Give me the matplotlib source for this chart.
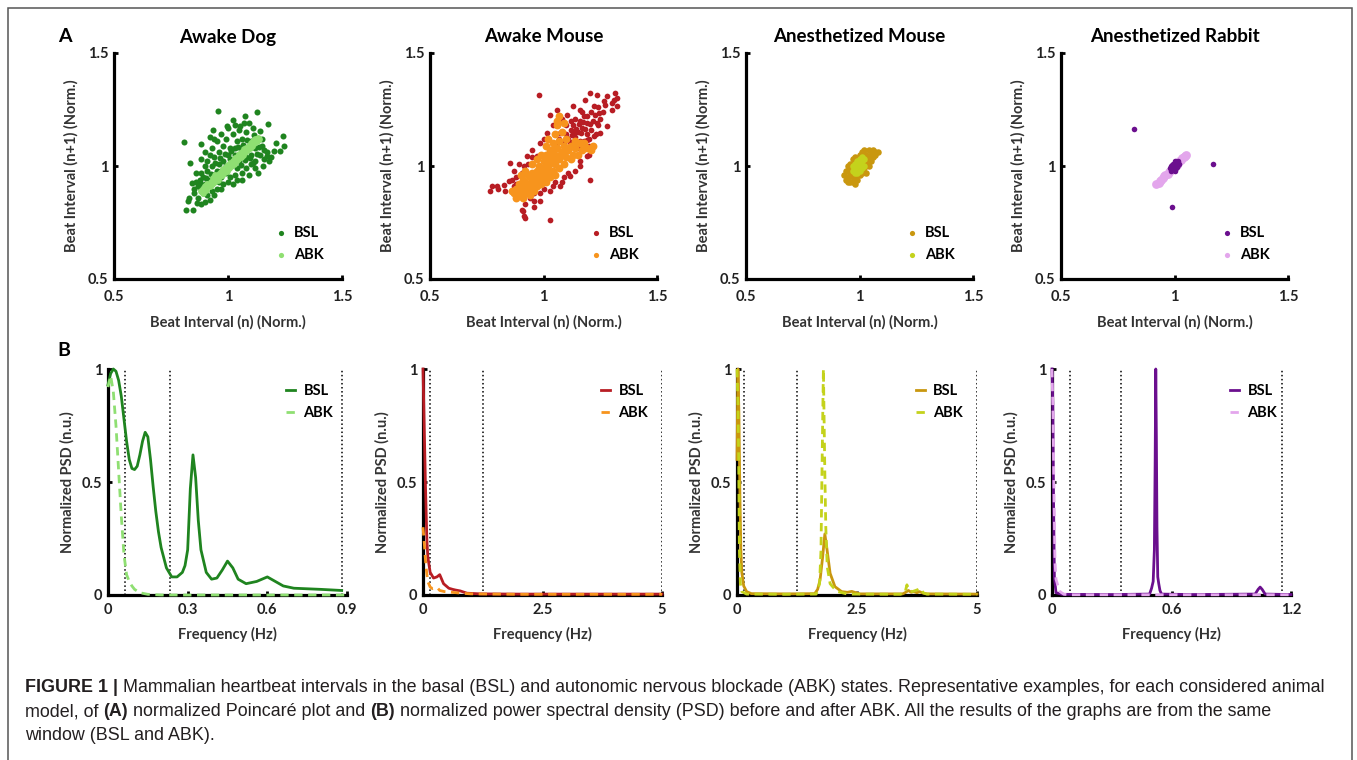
import matplotlib
matplotlib.use('Agg')
import matplotlib.pyplot as plt
from matplotlib.patches import Rectangle
import numpy as np

plt.rcParams['font.family'] = ['Lato', 'DejaVu Sans']

W, H = 1357, 760

titles = ['Awake Dog', 'Awake Mouse', 'Anesthetized Mouse', 'Anesthetized Rabbit']
bsl_colors = ['#1f841f', '#b81d24', '#c9970f', '#6b0f8e']
abk_colors = ['#8fdf72', '#f7941d', '#c4d21c', '#e3a6ec']

# ---- panel A: Poincare points (x = beat n, y = beat n+1), normalised ----
dog_bsl = np.array([
    (0.957, 1.245), (1.126, 1.237), (1.075, 1.22), (0.808, 1.105), (0.881, 1.099), (0.833, 1.013),
    (1.24, 1.131), (1.246, 1.087), (1.177, 1.187), (1.141, 1.153), (0.814, 0.804), (0.848, 0.807),
    (0.826, 0.844), (0.862, 0.836), (1.2, 1.065), (1.229, 1.065), (1.17, 1.043), (1.155, 0.998),
    (1.111, 1.013), (0.935, 1.161), (0.994, 1.176), (1.023, 1.205), (1.053, 1.176), (0.84, 0.925),
    (0.87, 0.91), (0.877, 0.94), (1.19, 1.04), (1.16, 1.07), (1.21, 1.10), (1.09, 1.19), (1.11, 1.17),
    (0.92, 1.13), (0.90, 1.06), (0.86, 0.97), (0.85, 0.88), (0.83, 0.86), (0.88, 0.83), (0.92, 0.85),
    (1.02, 0.92), (1.06, 0.94), (1.13, 0.97), (1.18, 1.02),
    (0.87, 0.86), (0.89, 0.88), (0.91, 0.87), (0.88, 0.90), (0.90, 0.92), (0.93, 0.89), (0.95, 0.90),
    (0.92, 0.94), (0.89, 0.95), (0.91, 0.98), (0.94, 0.96), (0.96, 0.93), (0.98, 0.92), (0.97, 0.95),
    (0.95, 0.98), (0.93, 1.00), (0.91, 1.02), (0.94, 1.04), (0.96, 1.01), (0.99, 0.97), (1.01, 0.95),
    (1.03, 0.96), (1.00, 0.99), (0.98, 1.02), (0.96, 1.06), (0.93, 1.08), (0.95, 1.11), (0.98, 1.09),
    (1.00, 1.05), (1.02, 1.01), (1.04, 0.99), (1.06, 0.97), (1.08, 0.99), (1.05, 1.02), (1.03, 1.05),
    (1.01, 1.08), (0.99, 1.12), (1.02, 1.14), (1.04, 1.11), (1.06, 1.07), (1.08, 1.04), (1.10, 1.01),
    (1.12, 1.02), (1.10, 1.05), (1.08, 1.08), (1.06, 1.12), (1.08, 1.15), (1.10, 1.11), (1.12, 1.08),
    (1.14, 1.05), (1.15, 1.09), (1.13, 1.12), (1.05, 1.16), (0.97, 1.14), (0.94, 1.12), (1.00, 1.17),
    (1.03, 1.18), (1.07, 1.19), (0.90, 1.00), (0.88, 0.97), (0.86, 0.93), (0.85, 0.90), (0.90, 0.84),
    (0.94, 0.87), (0.97, 0.90), (1.00, 0.93), (1.04, 0.94), (1.09, 0.96), (1.12, 0.99), (1.16, 1.03),
    (1.17, 1.06), (1.15, 1.12), (0.99, 1.00), (0.97, 0.98), (1.01, 1.03), (1.03, 1.08), (0.92, 1.05),
    (0.88, 1.03), (0.965, 1.035), (0.945, 1.015), (0.985, 1.055), (1.015, 1.065), (1.035, 1.025),
    (1.055, 1.005), (1.075, 1.025), (1.095, 1.035), (1.045, 1.085), (1.065, 1.095), (1.085, 1.115),
    (1.115, 1.135), (0.925, 0.965), (0.905, 0.945), (0.875, 0.925), (1.125, 1.055), (1.135, 1.085)])
dog_abk = np.array([
    (0.88, 0.89), (0.89, 0.88), (0.89, 0.90), (0.90, 0.91), (0.905, 0.895), (0.91, 0.92), (0.92, 0.91),
    (0.925, 0.93), (0.93, 0.92), (0.935, 0.945), (0.94, 0.93), (0.95, 0.95), (0.945, 0.96), (0.955, 0.94),
    (0.96, 0.965), (0.965, 0.955), (0.97, 0.975), (0.975, 0.96), (0.98, 0.985), (0.985, 0.975),
    (0.99, 0.995), (0.995, 0.98), (1.0, 1.005), (1.005, 0.99), (1.01, 1.015), (1.015, 1.0), (1.02, 1.02),
    (1.025, 1.01), (1.03, 1.035), (1.035, 1.02), (1.04, 1.04), (1.045, 1.03), (1.05, 1.055), (1.055, 1.04),
    (1.06, 1.06), (1.065, 1.05), (1.07, 1.075), (1.075, 1.06), (1.08, 1.08), (1.085, 1.07), (1.09, 1.09),
    (1.095, 1.08), (1.10, 1.10), (1.105, 1.09), (1.11, 1.11), (1.115, 1.10), (1.12, 1.12), (1.125, 1.11),
    (1.13, 1.125), (1.135, 1.12)])

mouse_bsl = np.array([
    (1.09, 1.10), (1.11, 1.12), (1.13, 1.10), (1.10, 1.14), (1.12, 1.16), (1.14, 1.13), (1.16, 1.11),
    (1.15, 1.15), (1.13, 1.18), (1.17, 1.17), (1.19, 1.14), (1.18, 1.11), (1.20, 1.12), (1.21, 1.16),
    (1.19, 1.19), (1.16, 1.20), (1.14, 1.21), (1.18, 1.22), (1.22, 1.20), (1.24, 1.18), (1.23, 1.14),
    (1.25, 1.21), (1.21, 1.24), (1.17, 1.24), (1.12, 1.20), (1.10, 1.18), (1.08, 1.15), (1.07, 1.12),
    (1.15, 1.08), (1.20, 1.09), (1.26, 1.24), (1.27, 1.27), (1.24, 1.26),
    (0.978, 1.316), (1.206, 1.323), (1.235, 1.316), (1.279, 1.308), (1.316, 1.323), (1.324, 1.301),
    (1.301, 1.279), (1.324, 1.264), (1.265, 1.286), (1.221, 1.264), (1.184, 1.293), (1.162, 1.249),
    (1.132, 1.264), (1.103, 1.227), (1.029, 1.227), (1.059, 1.249), (1.191, 1.220), (1.235, 1.19),
    (1.279, 1.176), (1.25, 1.146), (1.221, 1.131), (1.191, 1.117), (1.206, 0.94), (0.772, 0.910),
    (0.765, 0.888), (0.794, 0.910), (0.824, 0.917), (0.846, 0.932), (0.86, 0.94), (0.853, 1.013),
    (0.868, 0.976), (0.904, 0.969), (0.926, 1.043), (0.912, 0.999), (0.971, 1.043), (0.985, 1.102),
    (1.015, 1.146), (0.904, 0.807), (0.912, 0.777), (0.919, 0.77), (1.029, 0.763), (0.956, 0.844),
    (0.985, 0.844), (0.985, 0.88), (1.029, 0.888), (1.074, 0.910), (1.118, 0.955), (1.162, 0.999),
    (1.191, 1.043), (1.074, 1.146), (1.059, 1.102), (1.096, 1.065), (1.3, 1.25), (1.31, 1.29),
    (0.80, 0.90), (0.83, 0.89), (0.88, 0.92), (0.94, 0.86), (0.92, 0.83), (0.91, 0.80), (0.96, 0.88),
    (1.00, 0.90), (1.05, 0.93), (1.09, 0.95), (1.14, 0.98), (0.89, 1.01), (0.95, 1.07), (1.00, 1.12),
    (1.04, 1.18), (1.08, 1.21), (1.125, 1.135), (1.145, 1.165), (1.165, 1.145), (1.185, 1.165),
    (1.205, 1.185), (1.175, 1.195), (1.155, 1.185), (1.135, 1.145), (1.115, 1.105), (1.105, 1.125),
    (1.225, 1.225), (1.245, 1.235), (0.93, 1.01), (0.95, 1.04), (0.88, 0.95), (0.87, 0.91),
    (1.04, 0.91), (1.08, 0.93), (1.11, 0.97), (1.16, 1.02), (1.2, 1.05), (0.96, 0.82)])
mouse_abk = np.array([
    (0.87, 0.88), (0.88, 0.90), (0.89, 0.87), (0.90, 0.89), (0.89, 0.92), (0.91, 0.91), (0.92, 0.88),
    (0.93, 0.90), (0.92, 0.93), (0.94, 0.92), (0.95, 0.90), (0.94, 0.95), (0.96, 0.93), (0.97, 0.91),
    (0.96, 0.96), (0.98, 0.94), (0.99, 0.92), (0.97, 0.98), (0.99, 0.97), (1.00, 0.95), (1.01, 0.93),
    (0.98, 1.00), (1.00, 0.99), (1.02, 0.97), (1.03, 0.95), (1.00, 1.02), (1.02, 1.00), (1.04, 0.98),
    (1.05, 0.96), (1.01, 1.05), (1.03, 1.03), (1.05, 1.01), (1.07, 0.99), (1.03, 1.07), (1.05, 1.05),
    (1.07, 1.03), (1.09, 1.01), (1.04, 1.10), (1.06, 1.08), (1.08, 1.06), (1.10, 1.04), (1.12, 1.03),
    (1.05, 1.14), (1.07, 1.11), (1.09, 1.09), (1.11, 1.07), (1.13, 1.05), (1.15, 1.05), (1.06, 1.18),
    (1.08, 1.15), (1.10, 1.12), (1.12, 1.09), (1.14, 1.08), (1.17, 1.07), (1.19, 1.08), (1.21, 1.07),
    (1.22, 1.09), (1.07, 1.22), (1.06, 1.20), (1.09, 1.19), (0.95, 0.97), (0.93, 0.96), (0.91, 0.94),
    (0.90, 0.96), (0.92, 0.98), (0.95, 1.01), (0.97, 1.03), (0.99, 1.05), (1.01, 1.09), (1.02, 1.12),
    (0.86, 0.89), (0.88, 0.86), (0.91, 0.86), (0.94, 0.87), (0.96, 0.89), (1.16, 1.10), (1.18, 1.10),
    (1.14, 1.11), (0.975, 0.955), (1.015, 0.985), (1.035, 1.015), (1.055, 1.035), (1.075, 1.055),
    (1.095, 1.065), (0.955, 0.935), (0.935, 0.915), (1.025, 1.055), (1.045, 1.075)])

anmouse_bsl = np.array([
    (0.93, 0.96), (0.94, 0.94), (0.94, 0.98), (0.95, 0.95), (0.95, 1.00), (0.96, 0.93), (0.96, 0.97),
    (0.96, 1.01), (0.97, 0.95), (0.97, 0.99), (0.97, 1.03), (0.98, 0.92), (0.98, 0.97), (0.98, 1.01),
    (0.98, 1.04), (0.99, 0.94), (0.99, 0.99), (0.99, 1.03), (1.00, 0.96), (1.00, 1.00), (1.00, 1.05),
    (1.01, 0.97), (1.01, 1.02), (1.01, 1.06), (1.02, 0.99), (1.02, 1.04), (1.03, 0.97), (1.03, 1.01),
    (1.03, 1.05), (1.04, 1.00), (1.04, 1.03), (1.04, 1.07), (1.05, 1.02), (1.05, 1.05), (1.06, 1.04),
    (1.06, 1.07), (1.07, 1.05), (1.07, 1.06), (1.08, 1.06), (0.95, 0.93), (0.96, 0.99), (0.97, 0.93),
    (1.02, 1.07), (0.99, 0.96)])
anmouse_abk = np.array([
    (0.97, 0.98), (0.98, 0.99), (0.98, 1.01), (0.99, 0.97), (0.99, 1.00), (0.99, 1.02), (1.00, 0.98),
    (1.00, 1.01), (1.01, 0.99), (1.01, 1.02), (1.02, 1.00), (1.02, 1.03), (0.97, 1.00), (1.00, 1.03),
    (1.01, 1.04), (0.98, 0.97)])

rabbit_bsl = np.array([
    (0.99, 0.99), (1.0, 1.0), (1.01, 1.01), (0.995, 1.01), (1.01, 0.995), (0.985, 1.0), (1.0, 0.985),
    (1.015, 1.005), (1.005, 1.015), (0.99, 1.005), (1.005, 0.99), (0.98, 0.99), (1.02, 1.01),
    (1.0, 1.02), (1.0, 0.98), (0.985, 0.98), (1.015, 1.02),
    (0.82, 1.165), (1.17, 1.01), (0.99, 0.82)])
rabbit_abk = np.array([
    (0.92, 0.92), (0.93, 0.925), (0.935, 0.935), (0.94, 0.94), (0.95, 0.945), (0.955, 0.955),
    (0.96, 0.96), (0.97, 0.965), (0.975, 0.975), (0.98, 0.98), (0.99, 0.985), (0.995, 0.995),
    (1.0, 1.0), (1.01, 1.005), (1.015, 1.015), (1.02, 1.02), (1.03, 1.025), (1.035, 1.035),
    (1.04, 1.04), (1.045, 1.045), (1.05, 1.05)])

poincare = [(dog_bsl, dog_abk), (mouse_bsl, mouse_abk), (anmouse_bsl, anmouse_abk), (rabbit_bsl, rabbit_abk)]
abk_on_top = [True, True, True, False]
size_bsl = [19, 17, 22, 16]
size_abk = [24, 32, 22, 40]

# ---- panel B: normalised PSD ----
dog_f_bsl = [0, 0.01, 0.02, 0.03, 0.04, 0.05, 0.06, 0.07, 0.08, 0.09, 0.10, 0.11, 0.12, 0.13, 0.14,
             0.15, 0.16, 0.17, 0.18, 0.19, 0.20, 0.22, 0.24, 0.26, 0.28, 0.29, 0.30, 0.31, 0.32, 0.33,
             0.34, 0.35, 0.37, 0.39, 0.41, 0.43, 0.45, 0.47, 0.49, 0.52, 0.56, 0.60, 0.63, 0.66, 0.70,
             0.80, 0.88]
dog_p_bsl = [0.93, 0.98, 1.0, 0.99, 0.95, 0.88, 0.78, 0.68, 0.60, 0.56, 0.555, 0.57, 0.62, 0.68, 0.72,
             0.70, 0.60, 0.48, 0.37, 0.28, 0.21, 0.12, 0.08, 0.08, 0.10, 0.13, 0.20, 0.47, 0.62, 0.52,
             0.33, 0.20, 0.10, 0.07, 0.075, 0.11, 0.15, 0.12, 0.07, 0.05, 0.06, 0.08, 0.06, 0.04, 0.03,
             0.025, 0.02]
dog_f_abk = [0, 0.01, 0.02, 0.03, 0.04, 0.05, 0.06, 0.07, 0.08, 0.09, 0.10, 0.12, 0.15, 0.2, 0.9]
dog_p_abk = [0.92, 0.97, 0.9, 0.75, 0.55, 0.35, 0.18, 0.09, 0.06, 0.04, 0.025, 0.01, 0.003, 0.0, 0.0]

mouse_f_bsl = [0, 0.02, 0.05, 0.08, 0.1, 0.15, 0.22, 0.29, 0.35, 0.43, 0.54, 0.62, 0.68, 0.78, 0.92,
               1.2, 2.0, 3.0, 4.0, 5.0]
mouse_p_bsl = [1.0, 0.8, 0.5, 0.25, 0.17, 0.1, 0.075, 0.08, 0.09, 0.05, 0.03, 0.025, 0.022, 0.018,
               0.008, 0.005, 0.004, 0.004, 0.004, 0.004]
mouse_f_abk = [0, 0.03, 0.06, 0.1, 0.15, 0.2, 0.25, 0.3, 0.35, 0.45, 0.6, 0.8, 1.0, 2.0, 3.0, 4.0, 5.0]
mouse_p_abk = [0.3, 0.22, 0.13, 0.06, 0.035, 0.028, 0.03, 0.032, 0.02, 0.015, 0.012, 0.008, 0.005,
               0.003, 0.003, 0.003, 0.003]

anmouse_f_bsl = [0, 0.02, 0.04, 0.06, 0.08, 0.1, 0.14, 0.2, 0.3, 1.0, 1.62, 1.68, 1.73, 1.78, 1.83,
                 1.87, 1.94, 2.04, 2.18, 2.3, 2.39, 2.48, 2.56, 3.45, 3.5, 3.57, 3.63, 3.68, 3.75,
                 3.8, 3.88, 3.96, 5.0]
anmouse_p_bsl = [0.6, 1.0, 0.8, 0.45, 0.2, 0.1, 0.04, 0.015, 0.006, 0.005, 0.006, 0.025, 0.066, 0.16,
                 0.27, 0.21, 0.096, 0.037, 0.015, 0.012, 0.016, 0.01, 0.005, 0.005, 0.01, 0.02,
                 0.012, 0.015, 0.01, 0.015, 0.008, 0.005, 0.004]
anmouse_f_abk = [0, 0.02, 0.035, 0.05, 0.07, 0.1, 0.2, 1.0, 1.65, 1.72, 1.75, 1.77, 1.79, 1.8, 1.81,
                 1.83, 1.85, 1.88, 1.94, 2.02, 2.1, 2.3, 3.4, 3.5, 3.54, 3.58, 3.65, 3.72, 3.78,
                 3.82, 3.88, 3.95, 5.0]
anmouse_p_abk = [1.0, 0.85, 0.6, 0.2, 0.05, 0.015, 0.004, 0.003, 0.004, 0.05, 0.2, 0.54, 0.85, 1.0,
                 0.85, 0.54, 0.3, 0.125, 0.05, 0.03, 0.015, 0.004, 0.003, 0.01, 0.045, 0.02, 0.015,
                 0.02, 0.025, 0.03, 0.01, 0.004, 0.003]

rabbit_f_bsl = [0, 0.004, 0.008, 0.012, 0.02, 0.05, 0.3, 0.49, 0.50, 0.508, 0.514, 0.518, 0.521,
                0.524, 0.527, 0.531, 0.536, 0.542, 0.55, 0.7, 1.02, 1.035, 1.045, 1.055, 1.07, 1.2]
rabbit_p_bsl = [1.0, 0.85, 0.4, 0.08, 0.01, 0.003, 0.002, 0.004, 0.03, 0.06, 0.2, 0.6, 1.0, 0.7,
                0.3, 0.08, 0.05, 0.02, 0.004, 0.002, 0.004, 0.025, 0.035, 0.025, 0.004, 0.002]
rabbit_f_abk = [0, 0.005, 0.01, 0.015, 0.02, 0.03, 0.04, 0.06, 0.1, 1.2]
rabbit_p_abk = [1.0, 0.8, 0.45, 0.15, 0.07, 0.04, 0.015, 0.003, 0.001, 0.001]

psd = [((dog_f_bsl, dog_p_bsl), (dog_f_abk, dog_p_abk)),
       ((mouse_f_bsl, mouse_p_bsl), (mouse_f_abk, mouse_p_abk)),
       ((anmouse_f_bsl, anmouse_p_bsl), (anmouse_f_abk, anmouse_p_abk)),
       ((rabbit_f_bsl, rabbit_p_bsl), (rabbit_f_abk, rabbit_p_abk))]
f_max = [0.9, 5, 5, 1.2]
f_ticks = [[0, 0.3, 0.6, 0.9], [0, 2.5, 5], [0, 2.5, 5], [0, 0.6, 1.2]]
f_ticklabels = [['0', '0.3', '0.6', '0.9'], ['0', '2.5', '5'], ['0', '2.5', '5'], ['0', '0.6', '1.2']]
band_edges = [[0.065, 0.235, 0.88], [0.15, 1.25, 5], [0.15, 1.25, 5], [0.09, 0.345, 1.155]]

caption_lines = [
    [('FIGURE 1 |', True), (' ', False), ('Mammalian heartbeat intervals in the basal (BSL) and autonomic '
     'nervous blockade (ABK) states. Representative examples, for each considered animal', False)],
    [('model, of', False), (' ', False), ('(A)', True), (' ', False), ('normalized Poincaré plot and', False),
     (' ', False), ('(B)', True), (' ', False), ('normalized power spectral density (PSD) before and after '
     'ABK. All the results of the graphs are from the same', False)],
    [('window (BSL and ABK).', False)],
]

a_boxes = [(114, 53, 342, 279), (430, 53, 657, 279), (746, 53, 973, 279), (1061, 53, 1288, 279)]
b_boxes = [(108, 369, 347, 595), (423, 369, 662, 595), (737, 369, 977, 595), (1052, 369, 1291, 595)]


def px_rect(box):
    l, t, r, b = box
    return [l / W, 1 - b / H, (r - l) / W, (b - t) / H]


def style_axes(ax):
    for side in ['top', 'right']:
        ax.spines[side].set_visible(False)
    for side in ['left', 'bottom']:
        ax.spines[side].set_linewidth(2.3)
        ax.spines[side].set_color('black')
    ax.tick_params(direction='in', length=3, width=2, colors='black', labelcolor='#222222',
                   labelsize=10.5)
    for lab in ax.get_xticklabels() + ax.get_yticklabels():
        lab.set_fontweight('bold')


fig = plt.figure(figsize=(W / 100, H / 100), dpi=100)

# outer frame of the figure panel
fig.patches.append(Rectangle((8 / W, -0.05), (1352 - 8) / W, 1.05 - 8 / H, transform=fig.transFigure,
                             fill=False, edgecolor='#555555', lw=1.1))

lab_font = dict(fontsize=10.5, fontweight='bold', color='#333333')

for i in range(4):
    ax = fig.add_axes(px_rect(a_boxes[i]))
    bsl, abk = poincare[i]
    zb, za = (2, 3) if abk_on_top[i] else (3, 2)
    ax.scatter(bsl[:, 0], bsl[:, 1], s=size_bsl[i], color=bsl_colors[i], linewidths=0, zorder=zb,
               label='BSL')
    ax.scatter(abk[:, 0], abk[:, 1], s=size_abk[i], color=abk_colors[i], linewidths=0, zorder=za,
               label='ABK')
    ax.set_xlim(0.5, 1.5)
    ax.set_ylim(0.5, 1.5)
    ax.set_xticks([0.5, 1, 1.5])
    ax.set_xticklabels(['0.5', '1', '1.5'])
    ax.set_yticks([0.5, 1, 1.5])
    ax.set_yticklabels(['0.5', '1', '1.5'])
    style_axes(ax)
    ax.tick_params(axis='x', pad=8)
    ax.tick_params(axis='y', pad=4)
    ax.set_xlabel('Beat Interval (n) (Norm.)', **lab_font)
    ax.set_ylabel('Beat Interval (n+1) (Norm.)', **lab_font)
    ax.xaxis.set_label_coords(0.5, -0.16)
    ax.yaxis.set_label_coords(-0.155, 0.5)
    leg = ax.legend(loc='center left', bbox_to_anchor=(0.70, 0.157), frameon=False, borderpad=0,
                    borderaxespad=0, handlelength=1.0, handletextpad=0.4, labelspacing=0.55,
                    prop=dict(family='Lato', weight='bold', size=10.5), markerscale=1.0)
    for h in leg.legend_handles:
        h.set_sizes([14])
    cx = (a_boxes[i][0] + a_boxes[i][2]) / 2
    fig.text(cx / W, 1 - 37 / H, titles[i], ha='center', va='center', fontsize=13.5,
             fontweight='bold', color='black')

for i in range(4):
    ax = fig.add_axes(px_rect(b_boxes[i]))
    (fb, pb), (fa, pa) = psd[i]
    for e in band_edges[i]:
        ax.axvline(e, color='black', ls=':', lw=1.1, zorder=1)
    ax.plot(fb, pb, color=bsl_colors[i], lw=2, zorder=3, clip_on=False, label='BSL')
    ax.plot(fa, pa, color=abk_colors[i], lw=2, ls=(0, (3, 2)), zorder=3.5, clip_on=False,
            label='ABK')
    ax.set_xlim(0, f_max[i])
    ax.set_ylim(0, 1)
    ax.set_xticks(f_ticks[i])
    ax.set_xticklabels(f_ticklabels[i])
    ax.set_yticks([0, 0.5, 1])
    ax.set_yticklabels(['0', '0.5', '1'])
    style_axes(ax)
    ax.tick_params(axis='x', pad=6)
    ax.tick_params(axis='y', pad=4)
    ax.set_xlabel('Frequency (Hz)', **lab_font)
    ax.set_ylabel('Normalized PSD (n.u.)', **lab_font)
    ax.xaxis.set_label_coords(0.5, -0.14)
    ax.yaxis.set_label_coords(-0.138, 0.5)
    ax.legend(loc='center left', bbox_to_anchor=(0.745, 0.852), frameon=False, borderpad=0,
              borderaxespad=0, handlelength=0.6, handletextpad=0.6, labelspacing=0.55,
              prop=dict(family='Lato', weight='bold', size=10.5))

fig.text(65 / W, 1 - 36 / H, 'A', ha='center', va='center', fontsize=14, fontweight='bold')
fig.text(64 / W, 1 - 350 / H, 'B', ha='center', va='center', fontsize=14, fontweight='bold')

# caption, drawn run by run so bold pieces sit inline
renderer = fig.canvas.get_renderer()
cap_size = 12.9
cap_kw = dict(family='Liberation Sans', color='#231f20', fontsize=cap_size, va='center', ha='left')
probe1 = fig.text(0, 0, 'x x', **cap_kw)
probe2 = fig.text(0, 0, 'xx', **cap_kw)
space_w = probe1.get_window_extent(renderer).width - probe2.get_window_extent(renderer).width
probe1.remove()
probe2.remove()
for row, parts in zip([688, 712, 736], caption_lines):
    x = 25
    for text, bold in parts:
        if text == ' ':
            x += space_w
            continue
        t = fig.text(x / W, 1 - row / H, text, fontweight='bold' if bold else 'normal', **cap_kw)
        x += t.get_window_extent(renderer).width

fig.savefig('out.png', dpi=100)
